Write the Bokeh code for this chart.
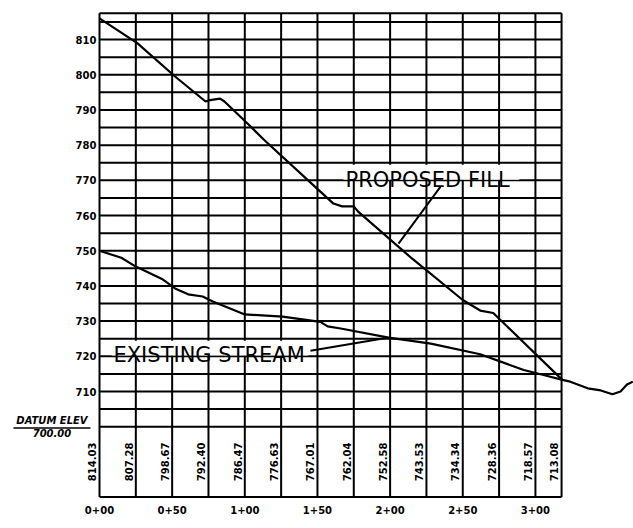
import numpy as np
from bokeh.plotting import figure
from bokeh.models import FixedTicker, Label, LabelSet, ColumnDataSource
from bokeh.core.properties import value
from bokeh.embed import file_html
from bokeh.resources import INLINE

# ---------------- data (station in ft, elevation in ft) ----------------
proposed_station = [0, 26, 52, 73, 76, 83, 86, 104, 113, 152, 161, 167, 175, 178,
                    215, 250, 262, 271, 318.5]
proposed_elev = [816.0, 809.0, 799.5, 792.4, 792.8, 793.2, 792.4, 785.3, 781.6, 766.8,
                 763.4, 762.6, 762.6, 761.1, 747.8, 736.0, 733.0, 732.3, 713.3]

existing_station = [0, 15, 25, 43, 52, 61, 71, 78, 100, 126, 152, 157, 166, 199, 228,
                    262, 292, 305.6, 318.6, 324, 336, 345, 353, 358.6, 363, 367]
existing_elev = [750.0, 748.0, 745.5, 742.0, 739.3, 737.6, 737.0, 735.6, 731.9, 731.3,
                 729.8, 728.5, 727.9, 725.3, 723.6, 720.6, 716.1, 714.7, 713.3, 712.8,
                 710.9, 710.3, 709.2, 710.0, 712.0, 712.8]

grid_stations = [0, 25, 50, 75, 100, 125, 150, 175, 200, 225, 250, 275, 300, 318]
station_elev_text = ["814.03", "807.28", "798.67", "792.40", "786.47", "776.63", "767.01",
                     "762.04", "752.58", "743.53", "734.34", "728.36", "718.57", "713.08"]

elev_ticks = [710, 720, 730, 740, 750, 760, 770, 780, 790, 800, 810]
station_ticks = [0, 50, 100, 150, 200, 250, 300]
station_tick_labels = ["0+00", "0+50", "1+00", "1+50", "2+00", "2+50", "3+00"]

grid_elevs = [680, 700, 705, 710, 715, 720, 725, 730, 735, 740, 745, 750, 755, 760, 765,
              770, 775, 780, 785, 790, 795, 800, 805, 810, 815, 817.5]
datum_text = ["DATUM ELEV", "700.00"]

# ---------------- figure ----------------
p = figure(width=633, height=528, x_range=(-68.13, 367.5), y_range=(679.6, 821.1),
           output_backend="svg", toolbar_location=None, title=None,
           min_border_left=0, min_border_right=0, min_border_top=0, min_border_bottom=30)
p.outline_line_color = None
p.background_fill_color = "white"
p.border_fill_color = "white"
p.grid.visible = False

FONT = "DejaVu Sans"

# axes
p.yaxis.ticker = FixedTicker(ticks=elev_ticks)
p.yaxis.fixed_location = 0
p.xaxis.ticker = FixedTicker(ticks=station_ticks)
p.xaxis.major_label_overrides = {t: l for t, l in zip(station_ticks, station_tick_labels)}
for ax in (p.xaxis, p.yaxis):
    ax.axis_line_color = None
    ax.major_tick_line_color = None
    ax.minor_tick_line_color = None
    ax.major_tick_out = 0
    ax.major_tick_in = 0
    ax.major_label_text_font = FONT
    ax.major_label_text_font_style = "bold"
    ax.major_label_text_font_size = "10px"
    ax.major_label_text_color = "black"
p.yaxis.major_label_standoff = 3
p.xaxis.major_label_standoff = 7

# profile grid (cells)
top, bottom = grid_elevs[-1], grid_elevs[0]
left, right = grid_stations[0], grid_stations[-1]
p.segment(x0=grid_stations, x1=grid_stations, y0=[bottom] * len(grid_stations),
          y1=[top] * len(grid_stations), line_color="black", line_width=2)
p.segment(x0=[left] * len(grid_elevs), x1=[right] * len(grid_elevs), y0=grid_elevs,
          y1=grid_elevs, line_color="black", line_width=2)

# annotation boxes (white) and leaders
ann = [
    # text, left station, baseline elev, box (left, right, bottom, top), leader (x0, y0, x1, y1)
    ("PROPOSED FILL", 169.3, 770.1, (167.9, 289.0, 770.2, 774.4), (234.7, 768.2, 205.8, 752.0)),
    ("EXISTING STREAM", 9.6, 720.5, (8.3, 143.8, 720.2, 724.4), (145.2, 721.6, 198.2, 725.3)),
]
for text, xs, ys, box, lead in ann:
    p.quad(left=[box[0]], right=[box[1]], bottom=[box[2]], top=[box[3]],
           fill_color="white", line_color=None)
    p.segment(x0=[lead[0]], y0=[lead[1]], x1=[lead[2]], y1=[lead[3]],
              line_color="black", line_width=2)
    p.add_layout(Label(x=xs, y=ys, text=text, text_align="left", text_baseline="alphabetic",
                       text_font=FONT, text_font_size="21px", text_color="black"))

# profiles
p.line(existing_station, existing_elev, line_color="black", line_width=2.2)
p.line(proposed_station, proposed_elev, line_color="black", line_width=2.2)

# station elevations in the table below the datum
src = ColumnDataSource(dict(x=np.array(grid_stations) - 5.0,
                            y=[690.0] * len(grid_stations),
                            t=station_elev_text))
p.add_layout(LabelSet(x="x", y="y", text="t", source=src, angle=np.pi / 2,
                      text_align="center", text_baseline="middle", text_font=value(FONT),
                      text_font_style="bold", text_font_size="10px", text_color="black"))

# datum label
datum_x = -32.7
p.add_layout(Label(x=datum_x, y=701.8, text=datum_text[0], text_align="center",
                   text_baseline="middle", text_font=FONT, text_font_style="bold italic",
                   text_font_size="10px", text_color="black"))
p.segment(x0=[datum_x - 26.5], x1=[datum_x + 26.5], y0=[699.6], y1=[699.6],
          line_color="black", line_width=1.5)
p.add_layout(Label(x=datum_x, y=698.1, text=datum_text[1], text_align="center",
                   text_baseline="middle", text_font=FONT, text_font_style="bold italic",
                   text_font_size="10px", text_color="black"))

open("out.html", "w").write(file_html(p, INLINE))
